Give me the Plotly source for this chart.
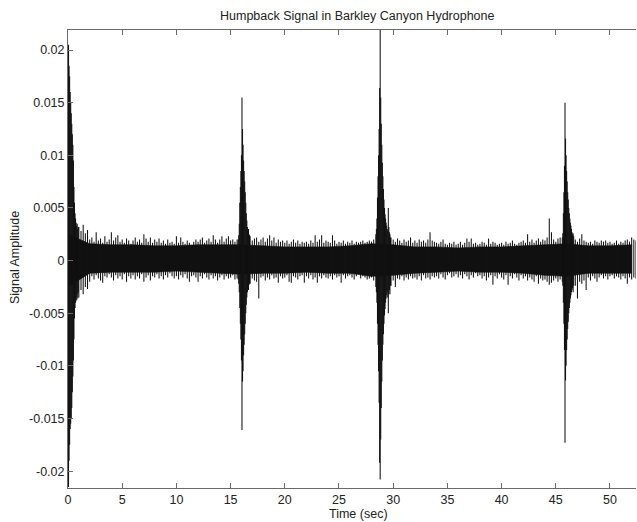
import plotly.graph_objects as go

# ---- values (amplitudes in units of 1e-3) ----
TITLE = "Humpback Signal in Barkley Canyon Hydrophone"
X_TITLE = "Time (sec)"
Y_TITLE = "Signal Amplitude"

x_ticks = [0, 5, 10, 15, 20, 25, 30, 35, 40, 45, 50]
y_ticks = [-0.02, -0.015, -0.01, -0.005, 0, 0.005, 0.01, 0.015, 0.02]
y_tick_labels = ["-0.02", "-0.015", "-0.01", "-0.005", "0", "0.005", "0.01", "0.015", "0.02"]

# background noise: local max / min every 0.2 s from t = 0 to 52.4 s
noise_step = 0.2
noise_up = [
    3.0, 3.0, 3.0, 3.0, 3.0, 3.2, 2.8, 3.4, 2.6, 2.9,
    2.0, 2.2, 1.8, 2.7, 1.9, 2.1, 1.7, 2.3, 1.8, 2.0,
    2.7, 1.9, 2.2, 2.4, 1.8, 2.0, 1.7, 2.1, 1.9, 1.6,
    1.9, 2.2, 1.8, 2.0, 1.7, 2.5, 2.1, 1.8, 2.2, 1.7,
    2.0, 1.8, 2.1, 1.7, 1.9, 1.6, 2.0, 1.7, 1.8, 1.6,
    2.3, 1.7, 2.2, 1.8, 1.6, 1.9, 1.7, 1.5, 1.8, 2.0,
    1.8, 2.0, 2.2, 1.7, 1.9, 2.1, 1.8, 2.4, 2.0, 1.7,
    2.0, 2.3, 1.8, 2.1, 2.3, 1.9, 2.0, 1.8, 2.0, 2.0,
    2.0, 2.0, 2.0, 2.0, 2.3, 1.9, 2.1, 2.2, 1.8, 2.0,
    2.2, 1.8, 2.1, 2.4, 1.9, 2.2, 1.7, 2.0, 1.8, 1.9,
    1.7, 1.9, 1.6, 1.8, 2.0, 1.7, 1.9, 1.6, 1.8, 1.7,
    1.8, 1.6, 1.9, 1.7, 2.4, 1.8, 2.0, 2.4, 1.7, 1.9,
    1.8, 1.7, 2.4, 1.9, 1.6, 1.8, 1.7, 1.9, 1.6, 1.8,
    1.7, 1.9, 1.6, 1.8, 1.7, 1.8, 1.9, 1.7, 1.8, 1.9,
    1.8, 2.0, 2.0, 2.0, 2.0, 2.0, 2.0, 2.0, 2.0, 2.2,
    2.0, 1.8, 2.1, 1.9, 1.7, 2.0, 1.8, 1.9, 2.2, 1.7,
    1.9, 1.7, 2.0, 1.8, 1.9, 1.7, 2.0, 2.7, 1.9, 1.8,
    1.7, 1.6, 1.8, 2.0, 1.6, 1.5, 1.7, 1.6, 1.8, 1.5,
    1.6, 1.8, 1.5, 1.7, 2.1, 1.8, 2.1, 1.6, 1.7, 1.5,
    1.6, 1.8, 1.7, 1.5, 2.1, 1.6, 1.8, 1.7, 1.5, 1.6,
    1.7, 1.5, 1.8, 1.6, 1.7, 1.9, 1.6, 1.5, 1.7, 1.8,
    1.9, 1.7, 2.5, 1.8, 2.0, 1.7, 1.9, 2.1, 1.8, 2.0,
    1.9, 2.2, 4.0, 2.7, 2.0, 1.8, 2.1, 2.2, 2.0, 2.0,
    2.0, 2.0, 2.0, 2.0, 2.0, 1.8, 2.1, 2.5, 1.9, 1.8,
    1.7, 1.8, 1.6, 1.9, 1.8, 1.7, 1.9, 1.8, 1.9, 1.7,
    1.8, 1.6, 1.7, 1.9, 1.6, 1.8, 1.7, 1.9, 2.0, 1.8,
    2.2, 2.0, 1.9,
]
noise_lo = [
    -3.0, -3.0, -3.0, -3.0, -3.0, -3.5, -2.8, -3.2, -2.5, -2.7,
    -2.0, -1.5, -1.8, -1.4, -1.7, -1.9, -2.1, -1.5, -1.6, -1.3,
    -1.6, -1.9, -1.4, -1.7, -1.5, -1.8, -1.3, -2.0, -1.5, -1.7,
    -1.4, -1.8, -1.5, -1.7, -1.3, -2.0, -1.6, -1.4, -1.9, -1.5,
    -1.6, -1.3, -1.7, -1.5, -1.8, -1.4, -1.6, -1.2, -1.5, -1.7,
    -1.5, -1.8, -1.4, -1.6, -1.3, -1.7, -2.0, -1.5, -1.4, -1.6,
    -2.0, -1.5, -1.7, -1.3, -1.6, -1.8, -1.4, -1.7, -1.5, -1.9,
    -1.6, -1.4, -1.8, -1.5, -1.7, -1.6, -1.4, -1.8, -1.7, -1.7,
    -2.0, -2.0, -2.0, -2.0, -2.2, -1.7, -1.9, -2.0, -3.6, -1.6,
    -1.5, -1.9, -1.6, -1.8, -1.4, -1.7, -1.6, -2.1, -1.5, -1.7,
    -1.6, -1.4, -2.0, -2.1, -1.5, -1.6, -1.8, -1.5, -1.4, -2.1,
    -1.5, -1.7, -1.4, -1.8, -1.6, -2.1, -1.5, -1.7, -1.4, -1.6,
    -1.7, -1.5, -1.8, -1.4, -1.6, -1.5, -2.1, -1.4, -1.7, -1.5,
    -1.4, -1.6, -1.8, -1.5, -1.3, -1.7, -1.5, -1.6, -1.8, -1.7,
    -1.6, -1.9, -2.0, -2.0, -2.0, -2.0, -2.0, -2.0, -2.0, -2.4,
    -1.9, -2.5, -1.7, -1.8, -1.5, -1.9, -1.6, -1.8, -1.5, -1.7,
    -1.6, -1.8, -1.5, -1.9, -1.4, -1.7, -1.6, -1.8, -1.5, -1.6,
    -1.5, -1.7, -1.3, -1.6, -1.8, -1.4, -1.2, -1.6, -1.5, -1.3,
    -1.6, -1.4, -1.7, -1.3, -1.5, -1.8, -1.4, -1.6, -1.2, -1.5,
    -1.4, -1.7, -1.5, -1.9, -1.6, -1.4, -2.3, -1.5, -1.7, -1.3,
    -1.6, -1.8, -1.4, -2.3, -1.5, -1.7, -1.3, -1.6, -1.9, -1.4,
    -1.7, -1.5, -1.9, -1.6, -1.8, -2.0, -1.5, -2.2, -1.7, -1.9,
    -1.8, -2.0, -2.3, -2.1, -1.9, -1.7, -2.0, -1.8, -2.0, -2.0,
    -2.0, -2.0, -2.0, -2.0, -2.4, -3.6, -2.0, -2.2, -1.9, -2.8,
    -1.6, -1.9, -1.5, -1.7, -2.0, -1.6, -1.4, -1.7, -1.5, -1.8,
    -1.5, -1.4, -1.7, -1.5, -1.6, -1.8, -1.5, -1.7, -2.2, -1.6,
    -1.8, -1.6, -1.7,
]

# dense (solid black) core of the noise band, read every 2 s from t = 0 to 52
core_step = 2.0
core_up = [2.5, 1.6, 1.5, 1.5, 1.4, 1.4, 1.5, 1.5, 1.5, 1.4, 1.3, 1.3, 1.3, 1.4,
           1.6, 1.5, 1.3, 1.3, 1.2, 1.3, 1.3, 1.4, 1.5, 1.6, 1.4, 1.4, 1.5]
core_lo = [-2.5, -1.2, -1.1, -1.1, -1.1, -1.0, -1.1, -1.2, -1.3, -1.2, -1.2, -1.1, -1.2, -1.2,
           -1.5, -1.4, -1.2, -1.1, -1.0, -1.1, -1.1, -1.2, -1.4, -1.5, -1.2, -1.2, -1.2]

# four humpback calls: local max / min every 0.05 s
call_step = 0.05
call_starts = [0.0, 15.7, 28.4, 45.6]
call_up = [
    [6.0, 20.5, 18.5, 17.5, 16.0, 15.0, 14.0, 13.0, 12.0, 11.0,
     9.5, 7.0, 5.5, 4.5, 4.0, 3.6, 3.3, 3.5, 3.0, 3.2],
    [2.0, 2.4, 3.5, 5.5, 7.0, 8.5, 10.0, 15.5, 12.5, 11.0, 9.5,
     8.5, 7.5, 6.5, 5.5, 4.5, 3.8, 3.2, 2.8, 3.0, 2.5, 2.4],
    [2.5, 3.0, 4.0, 6.0, 8.0, 10.0, 12.5, 16.4, 21.9, 15.5, 13.0, 11.0, 9.3, 8.0,
     6.8, 5.8, 5.0, 4.4, 4.0, 3.6, 3.3, 3.0, 2.8, 5.0, 3.2, 2.7, 2.5, 2.2],
    [2.2, 2.6, 4.5, 6.5, 9.0, 15.0, 11.6, 10.0, 8.5, 7.5, 6.5,
     5.8, 5.0, 4.5, 4.0, 3.6, 3.3, 3.0, 2.7, 2.5, 2.6, 2.3],
]
call_lo = [
    [-8.0, -21.5, -19.0, -17.5, -16.0, -15.5, -15.0, -14.0, -12.5, -11.0,
     -9.5, -7.5, -5.5, -4.5, -4.0, -3.5, -3.8, -3.2, -3.6, -3.0],
    [-1.8, -2.2, -3.0, -4.5, -6.0, -7.5, -9.5, -16.1, -11.5, -10.5, -9.0,
     -8.0, -7.0, -6.0, -5.0, -4.2, -3.5, -3.0, -2.6, -2.8, -2.3, -2.2],
    [-2.5, -3.0, -4.0, -6.0, -8.0, -10.5, -13.5, -19.2, -20.8, -17.0, -14.0, -11.5, -9.5, -8.0,
     -7.0, -6.0, -5.2, -4.6, -4.0, -3.6, -3.3, -3.0, -3.5, -5.0, -3.2, -2.8, -3.2, -2.4],
    [-2.0, -2.4, -4.0, -6.0, -8.5, -17.3, -11.4, -10.0, -8.5, -7.5, -6.5,
     -5.8, -5.0, -4.5, -4.0, -3.6, -3.3, -3.0, -2.8, -2.6, -3.0, -2.4],
]

SCALE = 1e-3

# ---- assemble strokes ----
windows = []
strokes = []  # (time, local max, local min)
for start, ups, los in zip(call_starts, call_up, call_lo):
    windows.append((start - 1e-9, start + len(ups) * call_step - 1e-9))
    for j, (u, l) in enumerate(zip(ups, los)):
        strokes.append((start + j * call_step, u, l))
for i, (u, l) in enumerate(zip(noise_up, noise_lo)):
    t = round(i * noise_step, 3)
    if any(a <= t < b for a, b in windows):
        continue
    strokes.append((t, u, l))
strokes.sort(key=lambda s: s[0])

sx, sy = [], []
for t, u, l in strokes:
    sx.extend([t, t, None])
    sy.extend([u * SCALE, l * SCALE, None])

core_t = [i * core_step for i in range(len(core_up))]
cx = core_t + core_t[::-1]
cy = [v * SCALE for v in core_up] + [v * SCALE for v in core_lo[::-1]]

fig = go.Figure()
fig.add_trace(go.Scatter(x=cx, y=cy, mode="lines", fill="toself",
                         fillcolor="#111111", line=dict(color="#111111", width=0.6),
                         hoverinfo="skip", showlegend=False))
fig.add_trace(go.Scatter(x=sx, y=sy, mode="lines",
                         line=dict(color="#111111", width=1.05),
                         hoverinfo="skip", showlegend=False))

font_family = "Liberation Sans, Arial, sans-serif"
axis_color = "#6a6a6a"
text_color = "#222222"
PLOT_L, PLOT_R, PLOT_T, PLOT_B = 68, 636, 30, 488
ph = PLOT_B - PLOT_T
pw = PLOT_R - PLOT_L

fig.update_layout(
    width=637, height=522,
    margin=dict(l=PLOT_L, r=637 - PLOT_R, t=PLOT_T, b=522 - PLOT_B),
    paper_bgcolor="white", plot_bgcolor="white",
    font=dict(family=font_family, size=12.5, color=text_color),
    annotations=[
        dict(text=TITLE, xref="paper", yref="paper", x=(357 - PLOT_L) / pw,
             y=1 + (PLOT_T - 16) / ph, xanchor="center", yanchor="middle",
             showarrow=False, font=dict(size=12.5, color=text_color)),
        dict(text=X_TITLE, xref="paper", yref="paper", x=(358 - PLOT_L) / pw,
             y=-(514 - PLOT_B) / ph, xanchor="center", yanchor="middle",
             showarrow=False, font=dict(size=12.5, color=text_color)),
        dict(text=Y_TITLE, xref="paper", yref="paper", x=-(PLOT_L - 15) / pw,
             y=(PLOT_B - 258) / ph, xanchor="center", yanchor="middle", textangle=-90,
             showarrow=False, font=dict(size=12.5, color=text_color)),
    ],
)
fig.update_xaxes(range=[0, 52.4], tickvals=x_ticks, ticks="inside", ticklen=5,
                 tickcolor=axis_color, showline=True, linecolor=axis_color, linewidth=1,
                 mirror="ticks", showgrid=False, zeroline=False, automargin=False,
                 tickfont=dict(size=12.5, color=text_color))
fig.update_yaxes(range=[-0.0216, 0.0219], tickvals=y_ticks, ticktext=y_tick_labels,
                 ticks="inside", ticklen=5, tickcolor=axis_color, showline=True,
                 linecolor=axis_color, linewidth=1, mirror=False, showgrid=False,
                 zeroline=False, automargin=False,
                 tickfont=dict(size=12.5, color=text_color))

fig.write_html("out.html", config={"displayModeBar": False},
               post_script="document.body.style.margin='0';document.body.style.overflow='hidden';")
